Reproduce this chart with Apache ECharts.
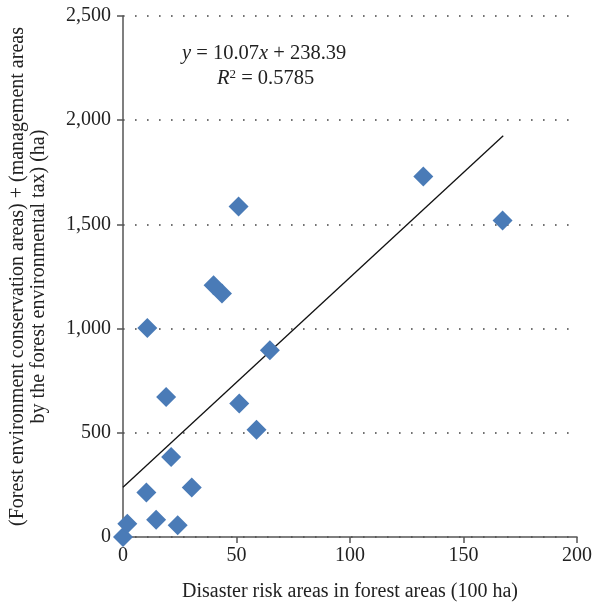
<!DOCTYPE html>
<html>
<head>
<meta charset="utf-8">
<script src="https://cdn.jsdelivr.net/npm/echarts@6/dist/echarts.min.js"></script>
<style>
  html, body { margin: 0; padding: 0; background: #fff; }
  #chart { width: 594px; height: 603px; }
</style>
</head>
<body>
<div id="chart"></div>
<script>
// disaster risk area (100 ha) vs conservation + management area (ha)
var riskAreas = [0, 1.9, 10.7, 19.0, 10.3, 21.2, 14.6, 24.1, 30.3, 51.2, 58.8, 64.7, 39.9, 43.6, 50.9, 132.3, 167.2];
var taxAreas = [0, 64, 1003, 672, 213, 384, 83, 56, 237, 640, 515, 896, 1208, 1168, 1586, 1730, 1519];
// trend line ends
var trendLine = [[0, 238.39], [167.5, 1925]];
var xTicks = [0, 50, 100, 150, 200];
var yTicks = [0, 500, 1000, 1500, 2000, 2500];

var points = riskAreas.map(function (x, i) { return [x, taxAreas[i]]; });
var serif = 'Liberation Serif';

var chart = echarts.init(document.getElementById('chart'));
chart.setOption({
  animation: false,
  textStyle: { fontFamily: serif },
  grid: { left: 123, right: 17, top: 16, bottom: 66, containLabel: false, outerBoundsMode: 'none' },
  xAxis: {
    type: 'value',
    min: xTicks[0],
    max: xTicks[xTicks.length - 1],
    interval: 50,
    name: 'Disaster risk areas in forest areas (100 ha)',
    nameLocation: 'middle',
    nameGap: 45,
    nameTextStyle: { fontFamily: serif, fontSize: 20, color: '#222' },
    axisLine: { show: true, onZero: false, lineStyle: { color: '#555', width: 1.5 } },
    axisTick: { show: true, length: 6, lineStyle: { color: '#555', width: 1.5 } },
    axisLabel: { fontFamily: serif, fontSize: 20, color: '#222', margin: 9 },
    splitLine: { show: false }
  },
  yAxis: {
    type: 'value',
    min: yTicks[0],
    max: yTicks[yTicks.length - 1],
    interval: 500,
    name: '(Forest environment conservation areas) + (management areas\nby the forest environmental tax) (ha)',
    nameLocation: 'middle',
    nameGap: 74,
    nameTextStyle: { fontFamily: serif, fontSize: 20, color: '#222', lineHeight: 21 },
    axisLine: { show: true, lineStyle: { color: '#555', width: 1.5 } },
    axisTick: { show: true, length: 6, lineStyle: { color: '#555', width: 1.5 } },
    axisLabel: {
      fontFamily: serif, fontSize: 20, color: '#222', margin: 12,
      formatter: function (v) { return v.toLocaleString('en-US'); }
    },
    splitLine: { show: true, lineStyle: { color: '#444', width: 1.6, type: [1.6, 10.4] } }
  },
  graphic: [{
    type: 'text',
    left: 182,
    top: 43,
    style: {
      text: '{i|y} = 10.07{i|x} + 238.39',
      font: '20.5px ' + serif,
      fill: '#222',
      rich: { i: { fontStyle: 'italic', fontFamily: serif, fontSize: 20.5 } }
    }
  }, {
    type: 'text',
    left: 217,
    top: 68,
    style: {
      text: '{i|R}{s|2} = 0.5785',
      font: '20.5px ' + serif,
      fill: '#222',
      rich: {
        i: { fontStyle: 'italic', fontFamily: serif, fontSize: 20.5 },
        s: { fontFamily: serif, fontSize: 13, verticalAlign: 'top', padding: [0, 0, 8, 0] }
      }
    }
  }],
  series: [{
    type: 'line',
    data: trendLine,
    symbol: 'none',
    lineStyle: { color: '#111', width: 1.3 },
    z: 3
  }, {
    type: 'scatter',
    data: points,
    symbol: 'diamond',
    symbolSize: [20, 20],
    itemStyle: { color: '#4a7bb7', opacity: 1 },
    z: 4
  }]
});
</script>
</body>
</html>
